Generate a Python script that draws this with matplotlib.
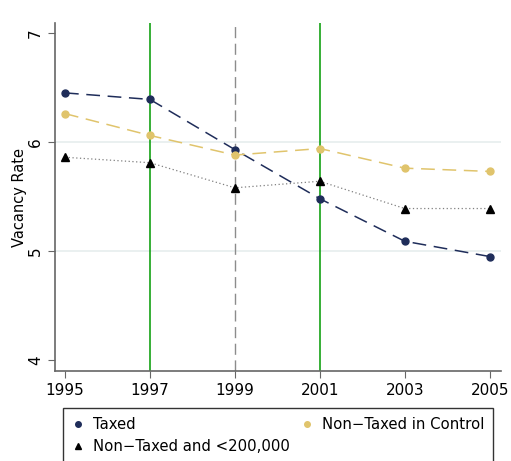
import numpy as np
import matplotlib
matplotlib.use("Agg")
import matplotlib.pyplot as plt
from matplotlib.lines import Line2D

years = [1995, 1997, 1999, 2001, 2003, 2005]
taxed = [6.45, 6.39, 5.93, 5.48, 5.09, 4.95]
control = [6.26, 6.06, 5.88, 5.94, 5.76, 5.73]
small = [5.86, 5.81, 5.58, 5.64, 5.39, 5.39]
yticks = [4, 5, 6, 7]

NAVY = "#1f2d5a"
SAND = "#e0c46c"

fig = plt.figure(figsize=(5.11, 4.61), dpi=100)
ax = fig.add_axes([0.1076, 0.195, 0.8724, 0.755])

for y in (5, 6):
    ax.axhline(y, color="#e6eeee", lw=1.2, zorder=0)
for x in (1997, 2001):
    ax.axvline(x, color="#009a00", lw=1.1, zorder=1)
ax.axvline(1999, color="#8c8c8c", lw=1.0, ls=(0, (8, 4)), zorder=1)

ax.plot(years, taxed, color=NAVY, ls=(0, (9, 5)), lw=1.1, marker="o", ms=5, zorder=3)
ax.plot(years, control, color=SAND, ls=(0, (9, 5)), lw=1.1, marker="o", ms=5, zorder=3)
ax.plot(years, small, color="#808080", ls=(0, (1, 2)), lw=0.9, zorder=2)
ax.plot(years, small, ls="none", color="black", marker="^", ms=5.5, zorder=3)

ax.set_xlim(1994.765, 2005.26)
ax.set_ylim(3.9, 7.09)
ax.set_xticks(years)
ax.set_yticks(yticks)
ax.tick_params(labelsize=11, color="#666666", length=5)
for lab in ax.get_yticklabels():
    lab.set_rotation(90)
    lab.set_va("center")
ax.set_ylabel("Vacancy Rate", fontsize=10.5, labelpad=1)
for s in ("top", "right"):
    ax.spines[s].set_visible(False)
for s in ("left", "bottom"):
    ax.spines[s].set_color("#666666")
    ax.spines[s].set_linewidth(1.2)

handles = [
    Line2D([], [], ls="none", marker="o", ms=4, color=NAVY),
    Line2D([], [], ls="none", marker="^", ms=4.5, color="black"),
    Line2D([], [], ls="none", marker="o", ms=4, color=SAND),
]
labels = ["Taxed", "Non\u2212Taxed and <200,000", "Non\u2212Taxed in Control"]
leg = fig.legend(handles, labels, ncol=2, loc="upper left",
                 bbox_to_anchor=(63 / 511, 1 - 408 / 461, 430 / 511, 0.0),
                 mode="expand", fontsize=10.7, frameon=True, fancybox=False,
                 edgecolor="black", handlelength=0.8, handletextpad=0.6,
                 borderpad=0.6, labelspacing=0.5, borderaxespad=0)
leg.get_frame().set_linewidth(1.0)

fig.savefig("out.png", dpi=100)
